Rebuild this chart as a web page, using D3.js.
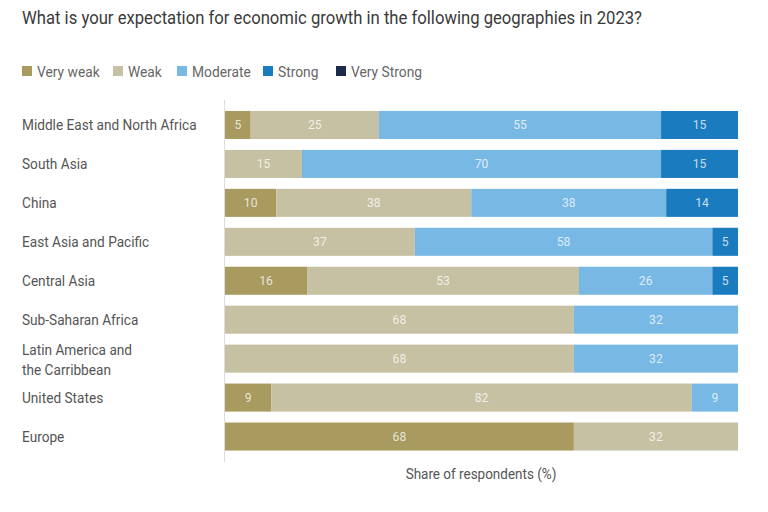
<!DOCTYPE html>
<html><head><meta charset="utf-8">
<script src="https://cdn.jsdelivr.net/npm/d3@7"></script>
<style>body{margin:0;background:#fff}svg{display:block}</style>
</head><body>
<svg id="c" width="768" height="512"></svg>
<script>
const categories = ["Middle East and North Africa","South Asia","China","East Asia and Pacific","Central Asia","Sub-Saharan Africa","Latin America and|the Carribbean","United States","Europe"];
const seriesNames = ["Very weak","Weak","Moderate","Strong","Very Strong"];
const veryWeak   = [5, 0, 10, 0, 16, 0, 0, 9, 68];
const weak       = [25, 15, 38, 37, 53, 68, 68, 82, 32];
const moderate   = [55, 70, 38, 58, 26, 32, 32, 9, 0];
const strong     = [15, 15, 14, 5, 5, 0, 0, 0, 0];
const veryStrong = [0, 0, 0, 0, 0, 0, 0, 0, 0];
const colors = ["#a99a5f","#c6c1a3","#78b8e5","#1b7bbf","#1c2b4b"];

const font = "'Liberation Sans Narrow','Roboto',sans-serif";
const svg = d3.select("#c");
const values = [veryWeak, weak, moderate, strong, veryStrong];
const rows = categories.map((c,i)=>{const o={cat:c}; seriesNames.forEach((s,j)=>o[s]=values[j][i]); return o;});
const stacked = d3.stack().keys(seriesNames)(rows);

const x = d3.scaleLinear().domain([0,100]).range([225,738]);
const y = d3.scaleBand().domain(categories).range([105.5,456]).paddingInner(0.28).paddingOuter(0.14);

// narrow text helper: horizontally condensed text
function ntext(parent, tx, ty, size, fill, str, anchor, sx){
  return parent.append("text").attr("transform",`translate(${tx},${ty}) scale(${sx||0.9},1)`)
    .attr("text-anchor",anchor||"start").attr("font-family",font).attr("font-size",size)
    .attr("fill",fill).text(str);
}

svg.append("text").attr("x",22).attr("y",24).attr("font-family",font).attr("font-size",18.5)
  .attr("fill","#3a3a3a").attr("textLength",620).attr("lengthAdjust","spacingAndGlyphs")
  .text("What is your expectation for economic growth in the following geographies in 2023?");

// legend
const legX = [22,113,177,263,336];
const leg = svg.append("g");
seriesNames.forEach((s,i)=>{
  leg.append("rect").attr("x",legX[i]).attr("y",66).attr("width",10).attr("height",10).attr("fill",colors[i]);
  ntext(leg, legX[i]+15, 76.5, 15, "#666", s, "start", 0.92);
});

// axis line
svg.append("line").attr("x1",224.5).attr("x2",224.5).attr("y1",100).attr("y2",462).attr("stroke","#ddd");

const g = svg.append("g");
stacked.forEach((layer,j)=>{
  layer.forEach((d,i)=>{
    const v = d[1]-d[0];
    if(v<=0) return;
    g.append("rect").attr("x",x(d[0])).attr("y",y(categories[i])).attr("width",x(d[1])-x(d[0])).attr("height",y.bandwidth()).attr("fill",colors[j]);
    ntext(g, (x(d[0])+x(d[1]))/2, y(categories[i])+y.bandwidth()/2+4.5, 13.5, "rgba(255,255,255,0.75)", v, "middle", 0.9);
  });
});

// category labels
categories.forEach(c=>{
  const lines = c.split("|");
  const cy = y(c)+y.bandwidth()/2;
  if(lines.length===1){
    ntext(svg, 22, cy+5, 15, "#555", lines[0], "start", 0.91);
  } else {
    ntext(svg, 22, cy-4, 15, "#555", lines[0], "start", 0.91);
    ntext(svg, 22, cy+16, 15, "#555", lines[1], "start", 0.91);
  }
});

ntext(svg, 481, 479, 15, "#555", "Share of respondents (%)", "middle", 0.9);
</script>
</body></html>
